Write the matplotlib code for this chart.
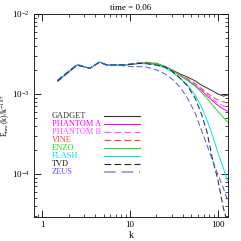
import matplotlib
matplotlib.use("Agg")
import matplotlib.pyplot as plt
from matplotlib.ticker import LogLocator, NullFormatter

plt.rcParams["font.family"] = ["Liberation Serif", "DejaVu Serif"]
plt.rcParams["mathtext.fontset"] = "stix"

# wavenumbers (bin centres) and spectra
k = [1.5, 2.5, 3.5, 4.5, 5.5, 6.5, 7.5, 8.5, 10, 12, 15, 20,
     25, 30, 37, 45, 55, 65, 75, 87, 100, 115, 128]

gadget = [1.45e-3, 2.3e-3, 2.1e-3, 2.5e-3, 2.3e-3, 2.3e-3, 2.32e-3, 2.3e-3, 2.35e-3, 2.4e-3, 2.45e-3, 2.4e-3,
          2.2e-3, 2.0e-3, 1.78e-3, 1.63e-3, 1.46e-3, 1.29e-3, 1.19e-3, 1.09e-3, 1.0e-3, 9.4e-4, 9.7e-4]
phantom_a = [1.45e-3, 2.3e-3, 2.1e-3, 2.5e-3, 2.3e-3, 2.3e-3, 2.32e-3, 2.3e-3, 2.35e-3, 2.4e-3, 2.45e-3, 2.4e-3,
             2.2e-3, 1.98e-3, 1.72e-3, 1.5e-3, 1.28e-3, 1.1e-3, 9.5e-4, 8.2e-4, 7.2e-4, 6.5e-4, 6.1e-4]
phantom_b = [1.45e-3, 2.3e-3, 2.1e-3, 2.5e-3, 2.3e-3, 2.3e-3, 2.32e-3, 2.3e-3, 2.35e-3, 2.4e-3, 2.45e-3, 2.4e-3,
             2.2e-3, 1.98e-3, 1.73e-3, 1.52e-3, 1.3e-3, 1.13e-3, 9.8e-4, 8.6e-4, 7.7e-4, 7.1e-4, 6.8e-4]
vine = [1.45e-3, 2.3e-3, 2.1e-3, 2.52e-3, 2.3e-3, 2.3e-3, 2.32e-3, 2.3e-3, 2.38e-3, 2.45e-3, 2.5e-3, 2.42e-3,
        2.2e-3, 2.0e-3, 1.75e-3, 1.55e-3, 1.35e-3, 1.17e-3, 1.03e-3, 9.2e-4, 8.4e-4, 8.0e-4, 7.7e-4]
enzo = [1.45e-3, 2.3e-3, 2.1e-3, 2.5e-3, 2.3e-3, 2.3e-3, 2.32e-3, 2.3e-3, 2.35e-3, 2.4e-3, 2.45e-3, 2.4e-3,
        2.2e-3, 1.97e-3, 1.7e-3, 1.47e-3, 1.25e-3, 1.05e-3, 8.8e-4, 7.3e-4, 6.0e-4, 5.1e-4, 4.5e-4]
flash = [1.45e-3, 2.3e-3, 2.1e-3, 2.5e-3, 2.3e-3, 2.3e-3, 2.32e-3, 2.3e-3, 2.35e-3, 2.4e-3, 2.4e-3, 2.3e-3,
         2.1e-3, 1.88e-3, 1.58e-3, 1.3e-3, 9.7e-4, 6.9e-4, 4.7e-4, 3.0e-4, 1.83e-4, 1.19e-4, 8.2e-5]
tvd = [1.45e-3, 2.3e-3, 2.1e-3, 2.5e-3, 2.3e-3, 2.3e-3, 2.32e-3, 2.3e-3, 2.35e-3, 2.4e-3, 2.4e-3, 2.3e-3,
       2.18e-3, 1.94e-3, 1.58e-3, 1.26e-3, 8.9e-4, 5.6e-4, 3.35e-4, 1.5e-4, 8.4e-5, 3.76e-5, 2.5e-5]
zeus = [1.5e-3, 2.35e-3, 2.1e-3, 2.5e-3, 2.28e-3, 2.28e-3, 2.28e-3, 2.25e-3, 2.2e-3, 2.2e-3, 2.18e-3, 2.0e-3,
        1.78e-3, 1.54e-3, 1.22e-3, 8.9e-4, 5.8e-4, 3.5e-4, 2.3e-4, 1.45e-4, 9.8e-5, 6.7e-5, 4.7e-5]

labels = ["GADGET", "PHANTOM A", "PHANTOM B", "VINE", "ENZO", "FLASH", "TVD", "ZEUS"]
series = [gadget, phantom_a, phantom_b, vine, enzo, flash, tvd, zeus]
colors = ["#333333", "#ff00ff", "#ff55ff", "#ff4040", "#22dd22", "#00e5e5", "#222222", "#5050ff"]
dashes = [None, None, (6, 3), (6, 3), None, None, (6, 3), (6, 3)]

fig = plt.figure(figsize=(2.41, 2.41), dpi=100)
ax = fig.add_axes([34 / 241, 24 / 241, 194 / 241, 203 / 241])

for vals, col, d in zip(series, colors, dashes):
    line, = ax.plot(k, vals, color=col, lw=0.7)
    if d is not None:
        line.set_dashes(d)

ax.set_xscale("log")
ax.set_yscale("log")
ax.set_xlim(0.81, 130)
ax.set_ylim(2.9e-5, 1e-2)

ax.tick_params(which="both", direction="in", top=True, right=True, labelsize=6.5, pad=3)
ax.tick_params(which="major", length=5, width=0.6)
ax.tick_params(which="minor", length=2.5, width=0.5)
ax.yaxis.set_minor_locator(LogLocator(base=10, subs=range(2, 10)))
ax.yaxis.set_minor_formatter(NullFormatter())
ax.xaxis.set_minor_formatter(NullFormatter())
ax.set_xticks([1, 10, 100])
ax.set_xticklabels(["1", "10", "100"])
for s in ax.spines.values():
    s.set_linewidth(0.6)

ax.set_xlabel("k", fontsize=7, labelpad=1)
ax.set_ylabel(r"E$_{\rm mw}$(k)/k$^{-1.87}$", fontsize=5.5, labelpad=0)
ax.set_title("time = 0.06", fontsize=6.5, pad=3)

# legend: coloured names on the left, line samples to the right
for i, (lab, col, d) in enumerate(zip(labels, colors, dashes)):
    y = 0.4975 - i * 0.0394
    ax.text(0.093, y, lab, color=col, fontsize=6, va="center", ha="left", transform=ax.transAxes)
    lw = 1.4 if lab == "ZEUS" else 0.8
    lc = "#a0a0ff" if lab == "ZEUS" else col
    line, = ax.plot([0.36, 0.546], [y, y], color=lc, lw=lw, transform=ax.transAxes)
    if d is not None:
        line.set_dashes(d)

fig.savefig("out.png", dpi=100)
